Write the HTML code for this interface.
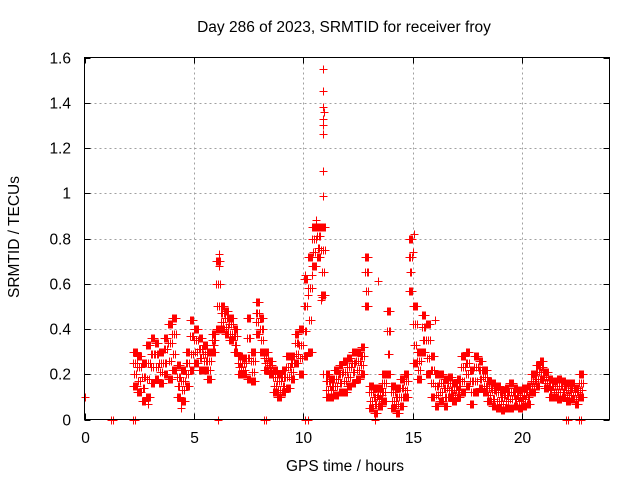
<!DOCTYPE html>
<html><head><meta charset="utf-8"><style>
html,body{margin:0;padding:0;background:#fff;}
svg{display:block;font-family:"Liberation Sans",sans-serif;}
</style></head><body>
<svg id="chart" width="640" height="480" viewBox="0 0 640 480">
<rect width="640" height="480" fill="#fff"/>
<text x="344" y="32" font-size="15.5" text-anchor="middle" fill="#000">Day 286 of 2023, SRMTID for receiver froy</text>
<text x="345" y="471" font-size="15.5" text-anchor="middle" fill="#000">GPS time / hours</text>
<text transform="translate(19,237) rotate(-90)" font-size="15.5" text-anchor="middle" fill="#000">SRMTID / TECUs</text>
<g id="grid"></g>
<g id="marks"></g>
<rect x="84.5" y="57.5" width="525" height="362" fill="none" stroke="#000" stroke-width="1" shape-rendering="crispEdges"/>
<g id="axes"></g>
</svg>
<script>
const xTicks = [0, 5, 10, 15, 20];
const yTicks = [0, 0.2, 0.4, 0.6, 0.8, 1, 1.2, 1.4, 1.6];
const yTickLabels = ["0", "0.2", "0.4", "0.6", "0.8", "1", "1.2", "1.4", "1.6"];
const times = [2.3,2.5,2.7,2.9,3.1,3.3,3.5,3.7,3.9,4.1,4.3,4.5,4.7,4.9,5.1,5.3,5.5,5.7,5.9,6.1,6.3,6.5,6.7,6.9,7.1,7.3,7.5,7.7,7.9,8.1,8.3,8.5,8.7,8.9,9.1,9.3,9.5,9.7,9.9,10.1,10.3,10.5,10.7,10.9,11.1,11.3,11.5,11.7,11.9,12.1,12.3,12.5,12.7,12.9,13.1,13.3,13.5,13.7,13.9,14.1,14.3,14.5,14.7,14.9,15.1,15.3,15.5,15.7,15.9,16.1,16.3,16.5,16.7,16.9,17.1,17.3,17.5,17.7,17.9,18.1,18.3,18.5,18.7,18.9,19.1,19.3,19.5,19.7,19.9,20.1,20.3,20.5,20.7,20.9,21.1,21.3,21.5,21.7,21.9,22.1,22.3,22.5,22.7];
const seriesLow = [0.15,0.12,0.08,0.10,0.16,0.18,0.16,0.20,0.18,0.22,0.10,0.08,0.15,0.22,0.25,0.22,0.22,0.18,0.30,0.40,0.40,0.38,0.35,0.30,0.20,0.20,0.18,0.17,0.38,0.30,0.22,0.20,0.12,0.10,0.12,0.14,0.18,0.25,0.20,0.28,0.30,0.68,0.72,0.55,0.10,0.10,0.11,0.12,0.12,0.15,0.16,0.18,0.20,0.50,0.05,0.03,0.06,0.08,0.20,0.05,0.03,0.06,0.10,0.57,0.25,0.18,0.30,0.20,0.10,0.06,0.08,0.06,0.10,0.08,0.10,0.12,0.15,0.07,0.12,0.14,0.12,0.08,0.06,0.05,0.04,0.05,0.05,0.06,0.05,0.06,0.07,0.12,0.15,0.18,0.14,0.10,0.10,0.09,0.10,0.08,0.09,0.07,0.10];
const seriesMidLow = [0.20,0.17,0.14,0.18,0.23,0.23,0.21,0.25,0.26,0.29,0.15,0.13,0.20,0.29,0.30,0.27,0.26,0.22,0.33,0.50,0.43,0.41,0.38,0.33,0.23,0.22,0.27,0.21,0.43,0.35,0.25,0.22,0.15,0.13,0.15,0.19,0.21,0.29,0.27,0.39,0.44,0.74,0.76,0.65,0.13,0.13,0.15,0.16,0.17,0.19,0.21,0.22,0.24,0.57,0.08,0.07,0.09,0.12,0.29,0.08,0.07,0.10,0.13,0.65,0.33,0.22,0.35,0.27,0.16,0.11,0.12,0.10,0.13,0.11,0.13,0.17,0.20,0.12,0.17,0.18,0.15,0.11,0.09,0.08,0.07,0.08,0.09,0.09,0.08,0.09,0.10,0.15,0.18,0.21,0.16,0.13,0.12,0.12,0.12,0.11,0.11,0.09,0.13];
const seriesMidHigh = [0.25,0.23,0.19,0.25,0.29,0.29,0.25,0.31,0.34,0.38,0.19,0.17,0.25,0.37,0.35,0.31,0.29,0.26,0.35,0.60,0.47,0.45,0.42,0.37,0.25,0.25,0.36,0.26,0.47,0.40,0.27,0.24,0.19,0.17,0.19,0.23,0.25,0.34,0.33,0.50,0.58,0.80,0.81,0.75,0.17,0.15,0.18,0.20,0.21,0.23,0.25,0.26,0.28,0.65,0.12,0.10,0.11,0.16,0.39,0.12,0.10,0.14,0.17,0.72,0.42,0.26,0.41,0.35,0.22,0.15,0.16,0.14,0.16,0.13,0.15,0.23,0.25,0.17,0.23,0.22,0.19,0.14,0.13,0.12,0.10,0.11,0.12,0.11,0.10,0.11,0.12,0.17,0.21,0.23,0.19,0.15,0.15,0.15,0.15,0.13,0.14,0.12,0.16];
const seriesHigh = [0.30,0.28,0.25,0.33,0.36,0.34,0.30,0.36,0.42,0.45,0.24,0.22,0.30,0.44,0.40,0.36,0.33,0.30,0.38,0.70,0.50,0.48,0.45,0.40,0.28,0.27,0.45,0.30,0.52,0.45,0.30,0.26,0.22,0.20,0.22,0.28,0.28,0.38,0.40,0.62,0.72,0.85,0.85,0.85,0.20,0.18,0.22,0.24,0.26,0.27,0.30,0.30,0.32,0.72,0.15,0.14,0.14,0.20,0.48,0.15,0.14,0.18,0.20,0.80,0.50,0.30,0.46,0.42,0.28,0.20,0.20,0.18,0.19,0.16,0.18,0.28,0.30,0.22,0.28,0.26,0.22,0.17,0.16,0.15,0.13,0.14,0.16,0.14,0.13,0.14,0.15,0.20,0.24,0.26,0.21,0.18,0.17,0.18,0.17,0.16,0.16,0.14,0.20];
const outlierTimes = [0.0,10.9,10.9,10.9,10.9,10.92,10.92,10.88,10.88,10.85,10.92,10.1,10.2,10.4,10.8,13.4,15.0,15.05,6.15,6.15,16.0,4.4,2.9,10.95,10.6];
const outlierValues = [0.1,1.55,1.45,1.38,1.33,1.30,1.26,1.10,0.99,0.54,0.20,0.64,0.55,0.64,0.53,0.61,0.74,0.82,0.73,0.68,0.44,0.05,0.07,1.36,0.88];
const zeroTimes = [1.2,1.3,2.2,2.3,6.1,8.2,8.3,10.1,10.2,13.3,22.0,22.1,22.6,22.7];

const X0 = 84.5, X1 = 609.5, Y0 = 419.5, Y1 = 57.5;
const xScale = t => X0 + (t / 24) * (X1 - X0);
const yScale = v => Y0 - (v / 1.6) * (Y0 - Y1);
const NS = "http://www.w3.org/2000/svg";
const grid = document.getElementById('grid');
const axes = document.getElementById('axes');
const marks = document.getElementById('marks');

function mk(tag, attrs, parent) {
  const e = document.createElementNS(NS, tag);
  for (const k in attrs) e.setAttribute(k, attrs[k]);
  parent.appendChild(e);
  return e;
}

yTicks.forEach((v, i) => {
  const y = Math.round(yScale(v)) + 0.5;
  if (v > 0 && v < 1.6) {
    const g = mk('line', {x1: X0, x2: X1, y1: y, y2: y, stroke: '#a0a0a0', 'stroke-dasharray': '2,3', 'shape-rendering': 'crispEdges'}, grid);
    
    
  }
  const t1 = mk('line', {x1: X0, x2: X0 + 6, y1: y, y2: y, stroke: '#000', 'shape-rendering': 'crispEdges'}, axes);
  
  
  const t2 = mk('line', {x1: X1 - 6, x2: X1, y1: y, y2: y, stroke: '#000', 'shape-rendering': 'crispEdges'}, axes);
  
  
  const lb = mk('text', {x: 71, y: y + 5, 'font-size': 15.5, 'text-anchor': 'end', fill: '#000'}, axes);
  lb.textContent = yTickLabels[i];
  
  
});

xTicks.forEach(t => {
  const x = Math.round(xScale(t)) + 0.5;
  if (t > 0) {
    const g = mk('line', {x1: x, x2: x, y1: Y0, y2: Y1, stroke: '#a0a0a0', 'stroke-dasharray': '2,3', 'shape-rendering': 'crispEdges'}, grid);
    
    
  }
  const t1 = mk('line', {x1: x, x2: x, y1: Y0, y2: Y0 - 6, stroke: '#000', 'shape-rendering': 'crispEdges'}, axes);
  
  
  const t2 = mk('line', {x1: x, x2: x, y1: Y1, y2: Y1 + 6, stroke: '#000', 'shape-rendering': 'crispEdges'}, axes);
  
  
  const lb = mk('text', {x: x, y: 443, 'font-size': 15.5, 'text-anchor': 'middle', fill: '#000'}, axes);
  lb.textContent = String(t);
  
  
});

let d = '';
function plus(t, v) {
  const x = Math.round(xScale(t)) + 0.5, y = Math.round(yScale(v)) + 0.5;
  d += `M${x - 4},${y}h8M${x},${y - 4}v8`;
}
const allSeries = [seriesLow, seriesMidLow, seriesMidHigh, seriesHigh];
const spread = [-0.08, -0.04, 0, 0.04, 0.08];
allSeries.forEach((s, k) => {
  s.forEach((v, i) => spread.forEach((o, j) => {
    if ((j + k) % 2 === 0 || k === 0 || k === 3) plus(times[i] + o, v);
  }));
});
outlierTimes.forEach((t, i) => plus(t, outlierValues[i]));
zeroTimes.forEach(t => plus(t, 0));
const p = mk('path', {d: d, stroke: '#ff0000', 'stroke-width': 1, fill: 'none', 'shape-rendering': 'crispEdges'}, marks);


</script>
</body></html>
